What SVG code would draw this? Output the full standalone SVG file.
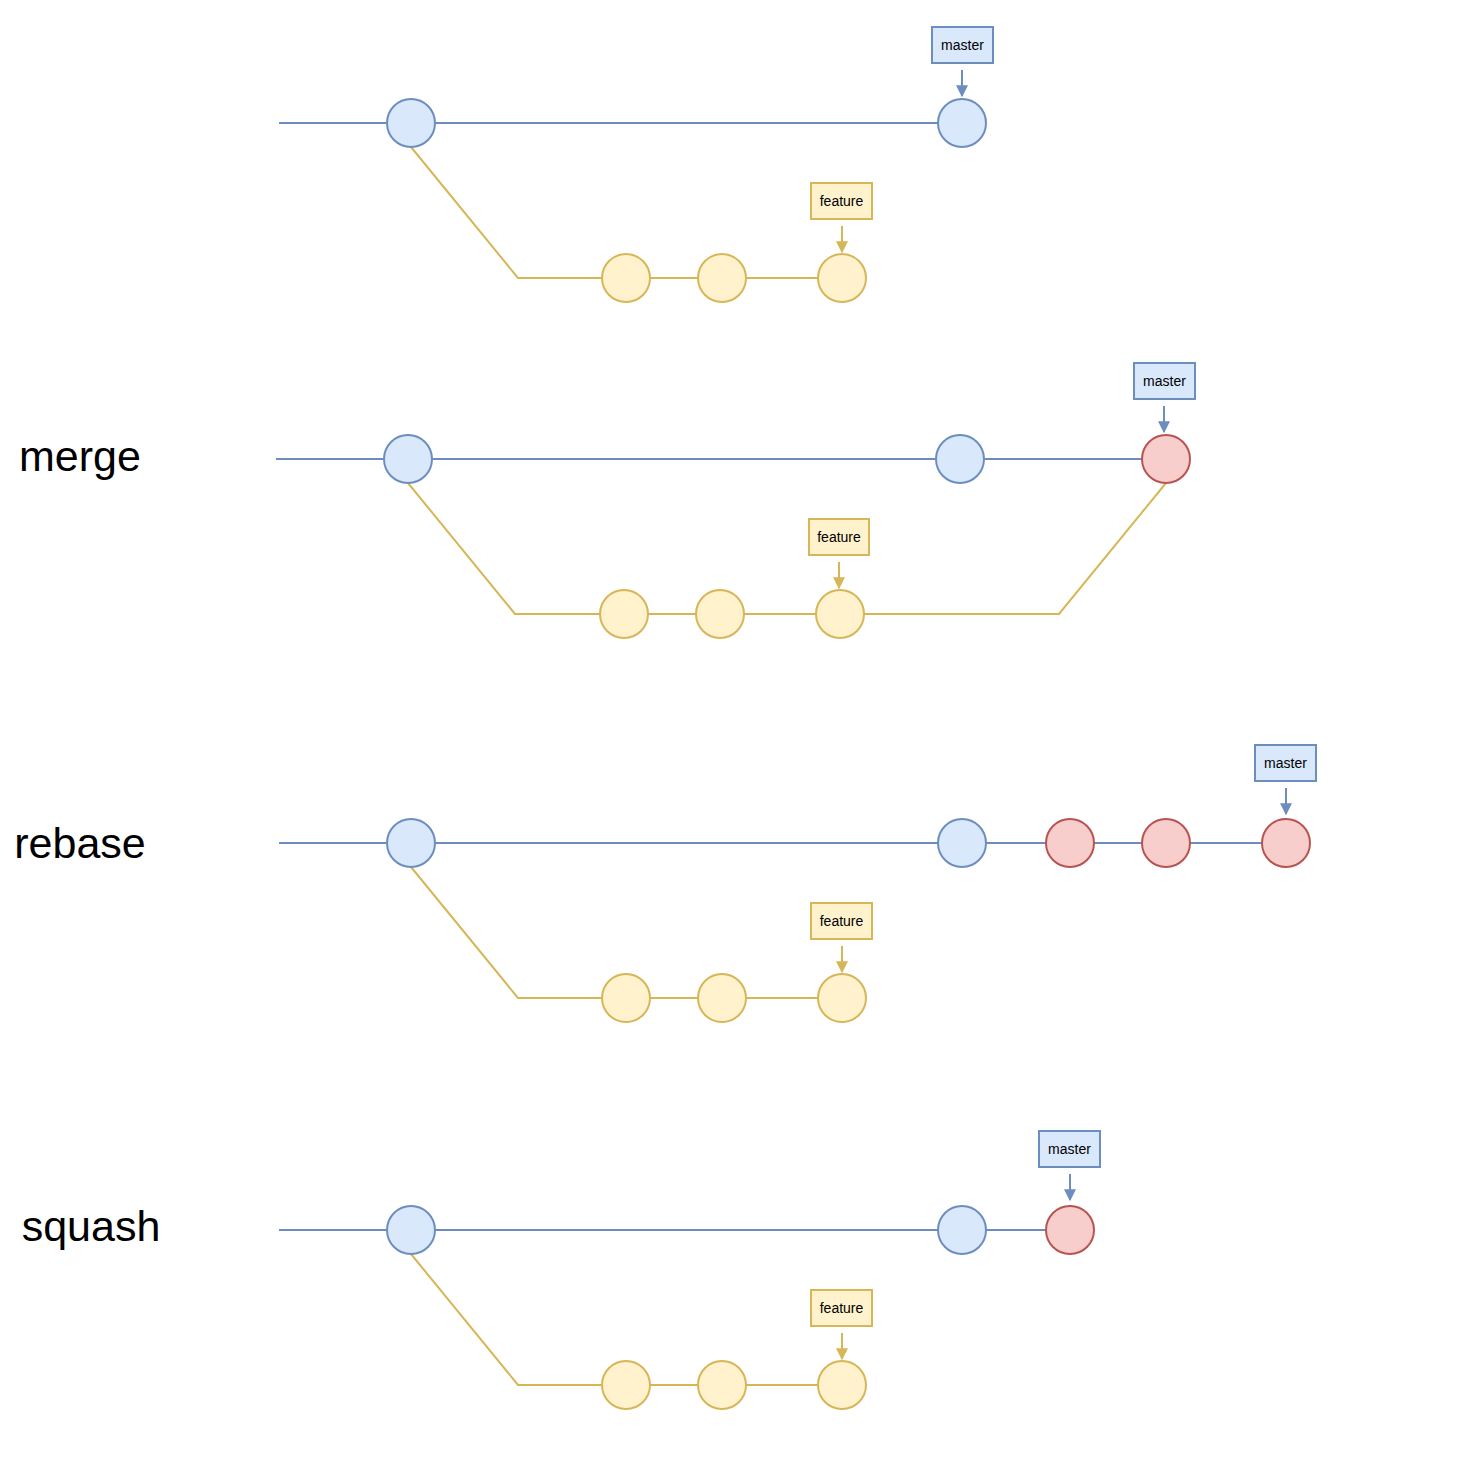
<svg xmlns="http://www.w3.org/2000/svg" width="1460" height="1482" viewBox="0 0 1460 1482">
<style>
.bl{fill:none;stroke:#6c8ebf;stroke-width:2}
.yl{fill:none;stroke:#d6b656;stroke-width:2}
.bc{fill:#dae8fc;stroke:#6c8ebf;stroke-width:2}
.yc{fill:#fff2cc;stroke:#d6b656;stroke-width:2}
.rc{fill:#f8cecc;stroke:#b85450;stroke-width:2}
.lt{font-family:"Liberation Sans",Arial,sans-serif;font-size:14px;fill:#000;text-anchor:middle}
.big{font-family:"Liberation Sans",Arial,sans-serif;font-size:43px;fill:#000;text-anchor:middle}
</style>
<defs>
<marker id="ab" viewBox="0 0 10 10" refX="9" refY="5" markerWidth="6" markerHeight="6" orient="auto" markerUnits="strokeWidth"><path d="M0,0 L10,5 L0,10 Z" fill="#6c8ebf"/></marker>
<marker id="ay" viewBox="0 0 10 10" refX="9" refY="5" markerWidth="6" markerHeight="6" orient="auto" markerUnits="strokeWidth"><path d="M0,0 L10,5 L0,10 Z" fill="#d6b656"/></marker>
</defs>
<rect width="1460" height="1482" fill="#fff"/>
<g id="connectors">
<path class="bl" d="M279,123 H962"/>
<path class="yl" d="M411,147 L518,278 H842"/>
<path class="bl" d="M962,70 V96" marker-end="url(#ab)"/>
<path class="yl" d="M842,226 V252" marker-end="url(#ay)"/>
<path class="bl" d="M276,459 H1166"/>
<path class="yl" d="M408,483 L515,614 H1059 L1166,483"/>
<path class="bl" d="M1164,406 V432" marker-end="url(#ab)"/>
<path class="yl" d="M839,562 V588" marker-end="url(#ay)"/>
<path class="bl" d="M279,843 H1286"/>
<path class="yl" d="M411,867 L518,998 H842"/>
<path class="bl" d="M1286,788 V814" marker-end="url(#ab)"/>
<path class="yl" d="M842,946 V972" marker-end="url(#ay)"/>
<path class="bl" d="M279,1230 H1070"/>
<path class="yl" d="M411,1254 L518,1385 H842"/>
<path class="bl" d="M1070,1174 V1200" marker-end="url(#ab)"/>
<path class="yl" d="M842,1333 V1359" marker-end="url(#ay)"/>
</g>
<g id="s1">
<g id="s1-a"><circle class="bc" cx="411" cy="123" r="24"/></g>
<g id="s1-b"><circle class="bc" cx="962" cy="123" r="24"/></g>
<g id="s1-f1"><circle class="yc" cx="626" cy="278" r="24"/></g>
<g id="s1-f2"><circle class="yc" cx="722" cy="278" r="24"/></g>
<g id="s1-f3"><circle class="yc" cx="842" cy="278" r="24"/></g>
<g id="s1-master"><rect class="bc" x="932" y="27" width="61" height="36"/><text class="lt" x="962.5" y="50">master</text></g>
<g id="s1-feature"><rect class="yc" x="811" y="183" width="61" height="36"/><text class="lt" x="841.5" y="206">feature</text></g>
</g>
<g id="s2">
<g id="s2-title"><text class="big" x="80" y="471">merge</text></g>
<g id="s2-a"><circle class="bc" cx="408" cy="459" r="24"/></g>
<g id="s2-b"><circle class="bc" cx="960" cy="459" r="24"/></g>
<g id="s2-m"><circle class="rc" cx="1166" cy="459" r="24"/></g>
<g id="s2-f1"><circle class="yc" cx="624" cy="614" r="24"/></g>
<g id="s2-f2"><circle class="yc" cx="720" cy="614" r="24"/></g>
<g id="s2-f3"><circle class="yc" cx="840" cy="614" r="24"/></g>
<g id="s2-master"><rect class="bc" x="1134" y="363" width="61" height="36"/><text class="lt" x="1164.5" y="386">master</text></g>
<g id="s2-feature"><rect class="yc" x="809" y="519" width="60" height="36"/><text class="lt" x="839" y="542">feature</text></g>
</g>
<g id="s3">
<g id="s3-title"><text class="big" x="80" y="858">rebase</text></g>
<g id="s3-a"><circle class="bc" cx="411" cy="843" r="24"/></g>
<g id="s3-b"><circle class="bc" cx="962" cy="843" r="24"/></g>
<g id="s3-r1"><circle class="rc" cx="1070" cy="843" r="24"/></g>
<g id="s3-r2"><circle class="rc" cx="1166" cy="843" r="24"/></g>
<g id="s3-r3"><circle class="rc" cx="1286" cy="843" r="24"/></g>
<g id="s3-f1"><circle class="yc" cx="626" cy="998" r="24"/></g>
<g id="s3-f2"><circle class="yc" cx="722" cy="998" r="24"/></g>
<g id="s3-f3"><circle class="yc" cx="842" cy="998" r="24"/></g>
<g id="s3-master"><rect class="bc" x="1255" y="745" width="61" height="36"/><text class="lt" x="1285.5" y="768">master</text></g>
<g id="s3-feature"><rect class="yc" x="811" y="903" width="61" height="36"/><text class="lt" x="841.5" y="926">feature</text></g>
</g>
<g id="s4">
<g id="s4-title"><text class="big" x="91" y="1241">squash</text></g>
<g id="s4-a"><circle class="bc" cx="411" cy="1230" r="24"/></g>
<g id="s4-b"><circle class="bc" cx="962" cy="1230" r="24"/></g>
<g id="s4-s"><circle class="rc" cx="1070" cy="1230" r="24"/></g>
<g id="s4-f1"><circle class="yc" cx="626" cy="1385" r="24"/></g>
<g id="s4-f2"><circle class="yc" cx="722" cy="1385" r="24"/></g>
<g id="s4-f3"><circle class="yc" cx="842" cy="1385" r="24"/></g>
<g id="s4-master"><rect class="bc" x="1039" y="1131" width="61" height="36"/><text class="lt" x="1069.5" y="1154">master</text></g>
<g id="s4-feature"><rect class="yc" x="811" y="1290" width="61" height="36"/><text class="lt" x="841.5" y="1313">feature</text></g>
</g>
</svg>
